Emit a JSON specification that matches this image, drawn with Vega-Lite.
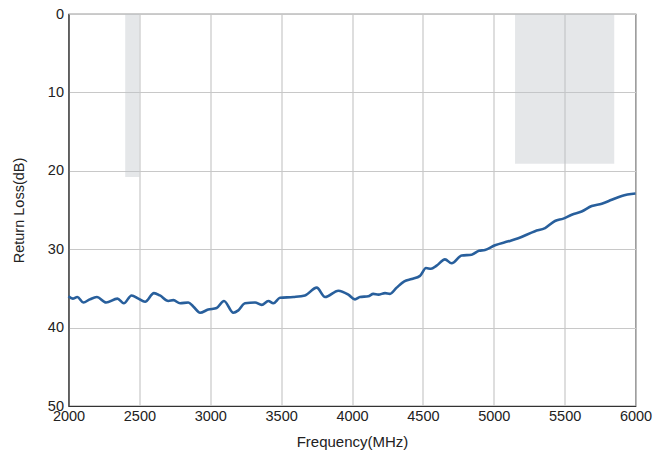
{
  "$schema": "https://vega.github.io/schema/vega-lite/v6.json",
  "width": 567,
  "height": 392,
  "autosize": {"type": "none"},
  "padding": {"left": 68.5, "top": 14, "right": 19.5, "bottom": 46},
  "background": "white",
  "config": {
    "font": "Liberation Sans",
    "view": {"stroke": "#3a3a3a", "strokeWidth": 1.2},
    "axis": {
      "domainColor": "#333333",
      "domainWidth": 1.2,
      "gridColor": "#c8c8c8",
      "gridWidth": 1.2,
      "ticks": false,
      "labelFont": "Liberation Sans",
      "titleFont": "Liberation Sans",
      "labelFontSize": 14.5,
      "titleFontSize": 14.5,
      "labelColor": "#222222",
      "titleColor": "#222222",
      "titleFontWeight": "normal"
    }
  },
  "layer": [
    {
      "data": {"values": [
        {"f1": 2400, "f2": 2500, "r1": 0, "r2": 20.8},
        {"f1": 5150, "f2": 5850, "r1": 0, "r2": 19.1}
      ]},
      "mark": {"type": "rect", "fill": "#bfc2c8", "opacity": 0.4},
      "encoding": {
        "x": {"field": "f1", "type": "quantitative", "scale": {"domain": [2000, 6000], "nice": false}},
        "x2": {"field": "f2"},
        "y": {"field": "r1", "type": "quantitative", "scale": {"domain": [0, 50], "reverse": true, "nice": false}},
        "y2": {"field": "r2"}
      }
    },
    {
      "data": {"values": [
        {"freq": 2000, "rl": 36.0},
        {"freq": 2030, "rl": 36.3},
        {"freq": 2062, "rl": 36.1},
        {"freq": 2105, "rl": 36.8},
        {"freq": 2150, "rl": 36.4},
        {"freq": 2200, "rl": 36.1},
        {"freq": 2265, "rl": 36.8},
        {"freq": 2345, "rl": 36.3},
        {"freq": 2390, "rl": 36.9},
        {"freq": 2445, "rl": 35.9},
        {"freq": 2493, "rl": 36.3},
        {"freq": 2540, "rl": 36.7},
        {"freq": 2603, "rl": 35.6},
        {"freq": 2645, "rl": 35.9},
        {"freq": 2704, "rl": 36.6},
        {"freq": 2740, "rl": 36.5},
        {"freq": 2787, "rl": 36.9},
        {"freq": 2845, "rl": 36.8},
        {"freq": 2880, "rl": 37.3},
        {"freq": 2928, "rl": 38.1},
        {"freq": 2986, "rl": 37.7},
        {"freq": 3045, "rl": 37.5},
        {"freq": 3097, "rl": 36.6},
        {"freq": 3163, "rl": 38.1},
        {"freq": 3198, "rl": 37.8},
        {"freq": 3245, "rl": 36.9},
        {"freq": 3316, "rl": 36.8},
        {"freq": 3363, "rl": 37.1},
        {"freq": 3410, "rl": 36.6},
        {"freq": 3445, "rl": 36.9},
        {"freq": 3492, "rl": 36.2},
        {"freq": 3586, "rl": 36.1},
        {"freq": 3668, "rl": 35.9},
        {"freq": 3751, "rl": 34.9},
        {"freq": 3810, "rl": 36.1},
        {"freq": 3904, "rl": 35.3},
        {"freq": 3974, "rl": 35.8},
        {"freq": 4021, "rl": 36.4},
        {"freq": 4056, "rl": 36.1},
        {"freq": 4115, "rl": 36.0},
        {"freq": 4150, "rl": 35.7},
        {"freq": 4186, "rl": 35.8},
        {"freq": 4233, "rl": 35.6},
        {"freq": 4268, "rl": 35.7},
        {"freq": 4315, "rl": 34.9},
        {"freq": 4369, "rl": 34.1},
        {"freq": 4421, "rl": 33.8},
        {"freq": 4480, "rl": 33.4},
        {"freq": 4522, "rl": 32.4},
        {"freq": 4557, "rl": 32.5},
        {"freq": 4597, "rl": 32.1},
        {"freq": 4656, "rl": 31.3},
        {"freq": 4703, "rl": 31.8},
        {"freq": 4774, "rl": 30.8},
        {"freq": 4844, "rl": 30.7},
        {"freq": 4896, "rl": 30.2},
        {"freq": 4938, "rl": 30.1},
        {"freq": 5009, "rl": 29.5},
        {"freq": 5103, "rl": 29.0},
        {"freq": 5173, "rl": 28.6},
        {"freq": 5291, "rl": 27.7},
        {"freq": 5362, "rl": 27.3},
        {"freq": 5432, "rl": 26.4},
        {"freq": 5491, "rl": 26.1},
        {"freq": 5550, "rl": 25.6},
        {"freq": 5620, "rl": 25.2},
        {"freq": 5691, "rl": 24.5},
        {"freq": 5762, "rl": 24.2},
        {"freq": 5832, "rl": 23.7},
        {"freq": 5903, "rl": 23.2},
        {"freq": 6000, "rl": 22.9}
      ]},
      "mark": {"type": "line", "color": "#285f9c", "strokeWidth": 2.6, "interpolate": "monotone"},
      "encoding": {
        "x": {
          "field": "freq", "type": "quantitative",
          "scale": {"domain": [2000, 6000], "nice": false},
          "axis": {"title": "Frequency(MHz)", "titleFontSize": 15, "values": [2000, 2500, 3000, 3500, 4000, 4500, 5000, 5500, 6000], "format": "d", "labelFlush": false, "labelOverlap": false, "labelPadding": 3, "titlePadding": 12}
        },
        "y": {
          "field": "rl", "type": "quantitative",
          "scale": {"domain": [0, 50], "reverse": true, "nice": false},
          "axis": {"title": "Return Loss(dB)", "values": [0, 10, 20, 30, 40, 50], "labelFlush": false, "labelOverlap": false, "labelPadding": 5, "titlePadding": 21}
        }
      }
    }
  ]
}
